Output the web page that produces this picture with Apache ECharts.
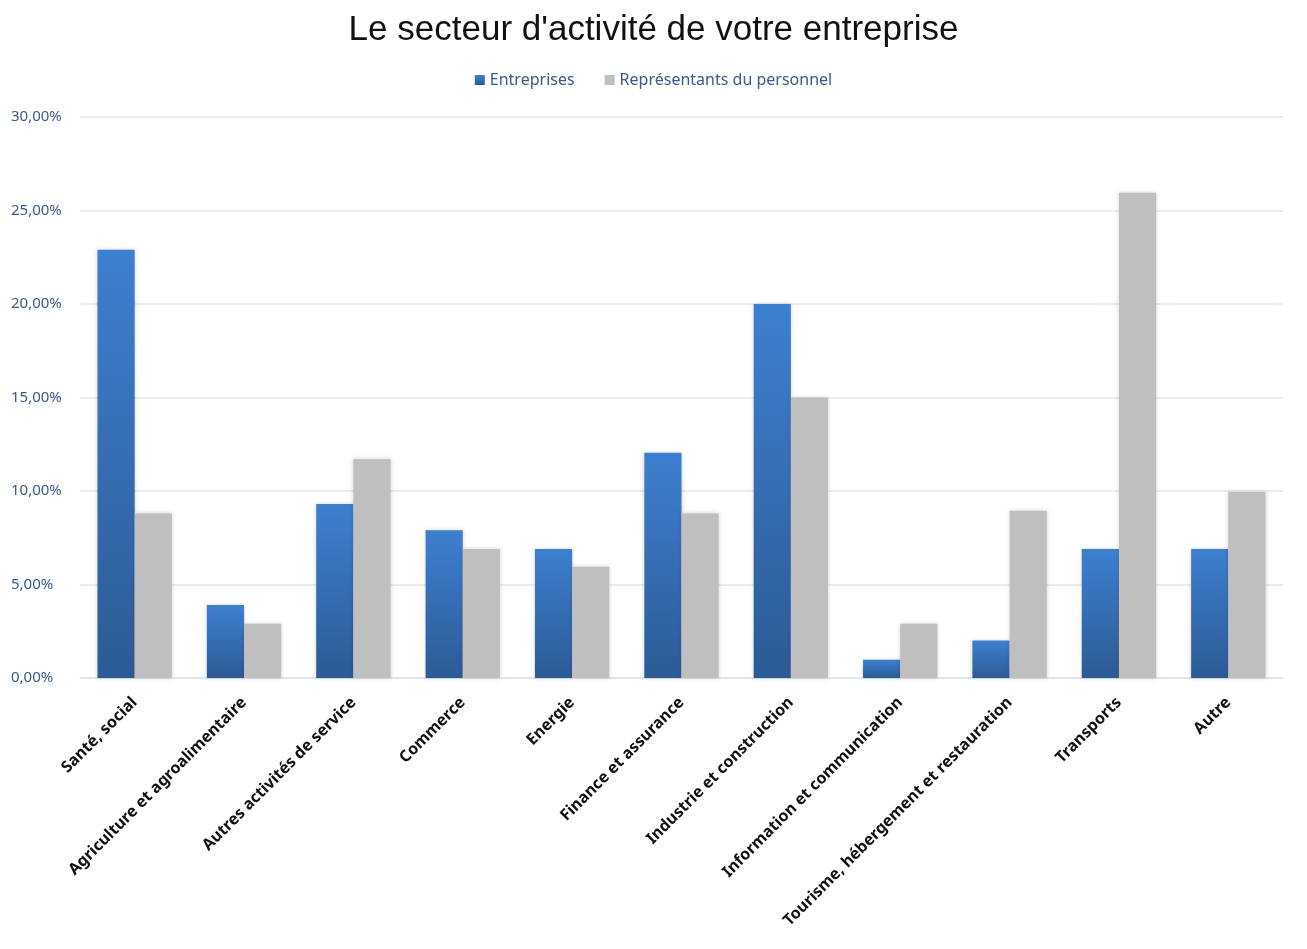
<!DOCTYPE html>
<html><head><meta charset="utf-8">
<script src="https://cdn.jsdelivr.net/npm/echarts@6/dist/echarts.min.js"></script>
<style>html,body{margin:0;padding:0;background:#fff}#c{width:1307px;height:949px}</style>
</head><body><div id="c"></div>
<script>
const categories = ["Santé, social","Agriculture et agroalimentaire","Autres activités de service","Commerce","Energie","Finance et assurance","Industrie et construction","Information et communication","Tourisme, hébergement et restauration","Transports","Autre"];
const entreprises = [22.9, 3.9, 9.3, 7.9, 6.9, 12.05, 20.0, 0.97, 2.0, 6.9, 6.9];
const representants = [8.8, 2.9, 11.7, 6.9, 5.95, 8.8, 15.0, 2.9, 8.95, 25.95, 9.95];
const seriesNames = ["Entreprises","Représentants du personnel"];
const yTicks = {min:0, max:30, interval:5};

const chart = echarts.init(document.getElementById('c'));
const blueGrad = new echarts.graphic.LinearGradient(0,0,0,1,[{offset:0,color:'#3d80d0'},{offset:1,color:'#2c5b95'}]);
chart.setOption({
  animation:false,
  title:{text:"Le secteur d'activité de votre entreprise",left:'center',top:8,
    textStyle:{fontFamily:'Liberation Sans',fontSize:35,fontWeight:'normal',color:'#111'}},
  legend:{top:67,left:'center',itemWidth:10,itemHeight:10,itemGap:30,icon:'rect',
    textStyle:{fontFamily:'Noto Sans',fontSize:16,color:'#3a5a8c'}},
  grid:{left:80,right:24,top:117,bottom:271,containLabel:false},
  xAxis:{type:'category',data:categories,
    axisLine:{lineStyle:{color:'#d6e3f3',width:1.5}},axisTick:{show:false},
    axisLabel:{interval:0,rotate:45,fontFamily:'Noto Sans',fontWeight:'bold',fontSize:16,color:'#111',margin:22}},
  yAxis:{type:'value',min:yTicks.min,max:yTicks.max,interval:yTicks.interval,
    axisLine:{show:false},axisTick:{show:false},
    splitLine:{lineStyle:{color:'#dce8f5',width:1.5}},
    axisLabel:{fontFamily:'Noto Sans',fontSize:15,color:'#3a5a8c',align:'left',margin:69,
      formatter:v=>v.toFixed(2).replace('.',',')+'%'}},
  series:[
    {name:seriesNames[0],type:'bar',data:entreprises,barGap:'0%',barCategoryGap:'32%',
      itemStyle:{color:blueGrad,shadowColor:'rgba(0,0,0,0.18)',shadowBlur:4}},
    {name:seriesNames[1],type:'bar',data:representants,
      itemStyle:{color:'#bfbfbf',shadowColor:'rgba(0,0,0,0.18)',shadowBlur:4}}
  ]
});
</script></body></html>
